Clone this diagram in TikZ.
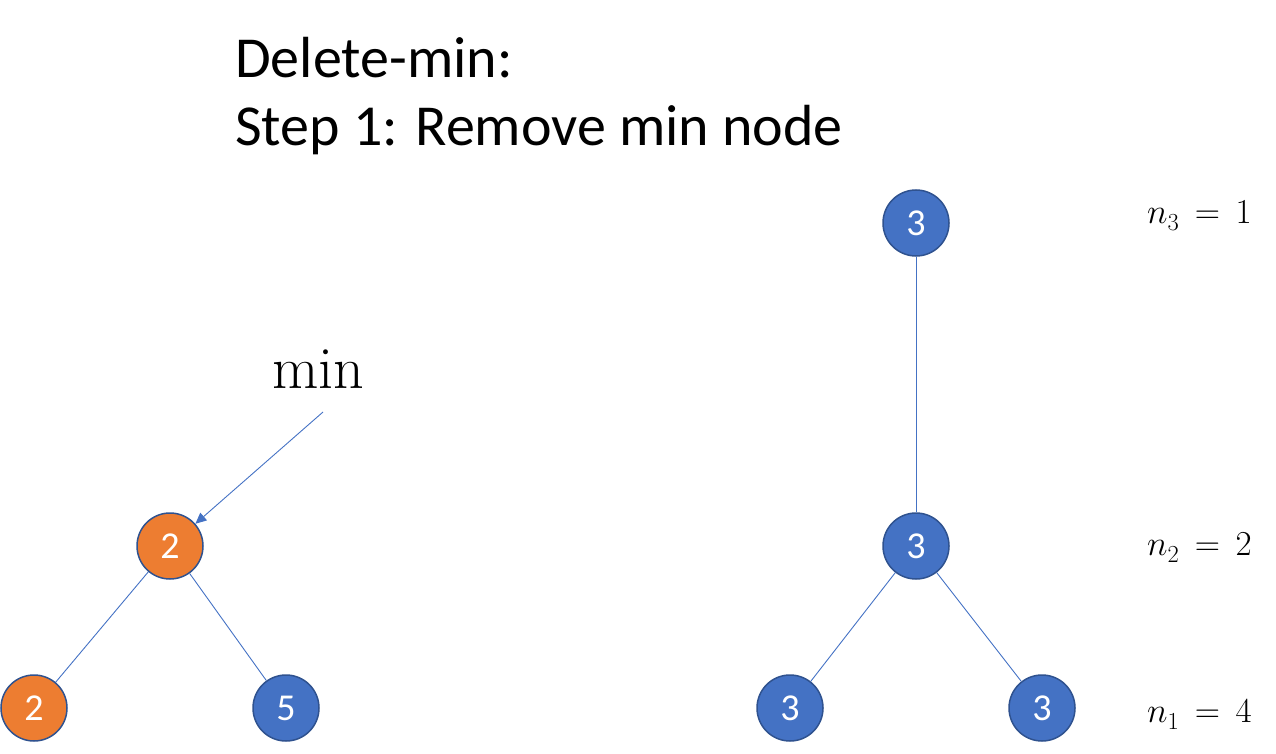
\RequirePackage{fix-cm}
\documentclass[tikz,border=0pt]{standalone}
\usepackage{fontspec}
\setmainfont{Carlito}
\usetikzlibrary{arrows.meta}
\definecolor{orng}{HTML}{ED7D31}
\definecolor{blu}{HTML}{4472C4}
\definecolor{bord}{HTML}{2F528F}
\newfontfamily\lmroman{Latin Modern Roman}
\begin{document}
\begin{tikzpicture}[x=1pt,y=-1pt,
  heapnode/.style={circle,draw=bord,line width=1.5pt,minimum size=66pt,inner sep=0pt,text=white,font=\fontsize{38}{42}\selectfont},
  bluenode/.style={heapnode,fill=blu},
  orangenode/.style={heapnode,fill=orng},
  edge/.style={draw=blu,line width=0.9pt},
  title/.style={anchor=base west,inner sep=0pt,font=\fontsize{58}{68}\selectfont},
  lbl/.style={anchor=base west,inner sep=0pt,font=\fontsize{35}{40}\selectfont}]
\useasboundingbox (0,0) rectangle (1276,754);
\node[title] (t1) at (235,78) {Delete-min:};
\node[title] (t2) at (235,146) {Step 1: Remove min node};
\node[anchor=base,inner sep=0pt,font=\lmroman\fontsize{60}{66}\selectfont] (minlbl) at (318,388) {min};
\coordinate (arrstart) at (323,412);
\node[orangenode] (a) at (170,546) {2};
\node[orangenode] (b) at (34,708) {2};
\node[bluenode] (c) at (286,708) {5};
\node[bluenode] (d) at (916,223) {3};
\node[bluenode] (e) at (916,546) {3};
\node[bluenode] (f) at (790,708) {3};
\node[bluenode] (g) at (1042,708) {3};
\draw[edge] (a) -- (b);
\draw[edge] (a) -- (c);
\draw[edge] (d) -- (e);
\draw[edge] (e) -- (f);
\draw[edge] (e) -- (g);
\draw[edge,-{Triangle[length=11pt,width=10pt]}] (arrstart) -- (a);
\node[lbl] (l3) at (1147,223) {$n_{\raisebox{-2pt}{$\scriptstyle 3$}}\,=\,1$};
\node[lbl] (l2) at (1147,555) {$n_{\raisebox{-2pt}{$\scriptstyle 2$}}\,=\,2$};
\node[lbl] (l1) at (1147,722) {$n_{\raisebox{-2pt}{$\scriptstyle 1$}}\,=\,4$};
\end{tikzpicture}
\end{document}
